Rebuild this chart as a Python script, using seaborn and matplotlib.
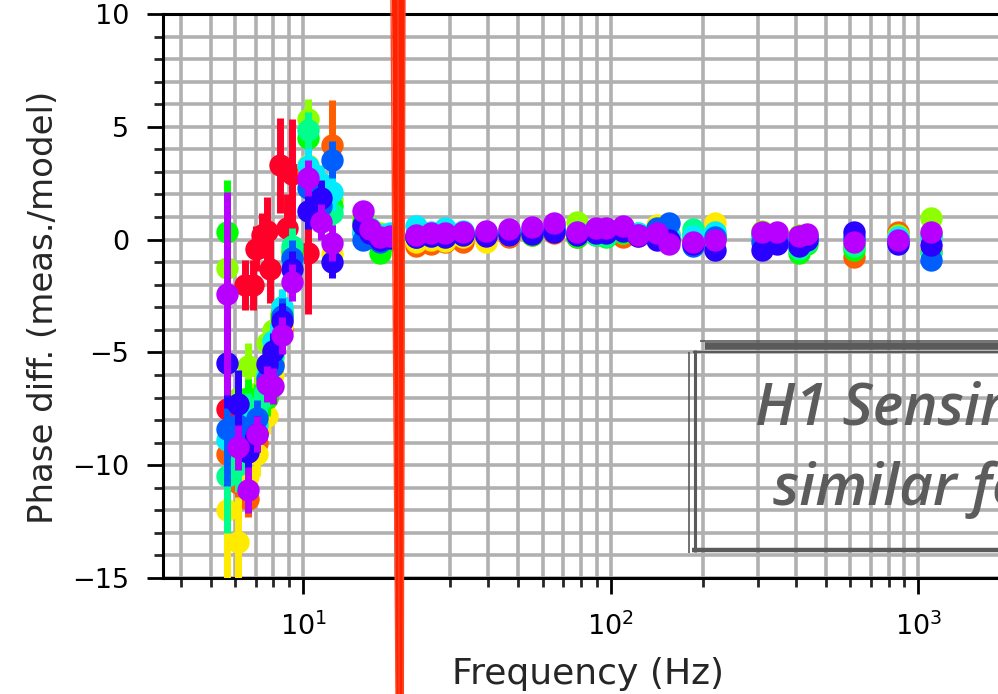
import numpy as np
import pandas as pd
import matplotlib
matplotlib.use("Agg")
import matplotlib.pyplot as plt
import seaborn as sns
from matplotlib.lines import Line2D
from matplotlib.patches import Polygon
from matplotlib.ticker import MultipleLocator, LogLocator, NullFormatter

# ---------------- data ----------------
SERIES = ["red", "orange", "yellow", "lime", "green", "spring", "cyan", "azure", "blue", "purple"]

# red measurement (low frequency only)
RED_FREQ = [5.67, 6.49, 6.89, 7.04, 7.36, 7.64, 7.82, 8.42, 8.87, 9.21, 10.38]
RED_VAL = [-7.5, -2.0, -2.0, -0.4, 0.2, 0.4, -1.3, 3.3, 0.5, 2.9, -0.6]
RED_ERR = [0.8, 1.1, 1.1, 1.0, 1.0, 1.5, 1.5, 2.1, 1.5, 2.45, 2.7]

F_LOW = [5.67, 6.12, 6.6, 7.1, 7.6, 8.0, 8.5, 9.2, 10.4, 11.4, 12.4]
F_HIGH = [15.7, 16.5, 17.8, 19.1, 23.2, 26.0, 29.0, 33.1, 39.3, 46.5, 55.3, 65.4,
          77.6, 89.3, 96.7, 109.8, 122.5, 141.3, 154.4, 184.5, 218.8, 309.7,
          346.8, 410.4, 435.6, 617.5, 860.0, 1097.0]

orange_low = [-9.5, -10.8, -11.5, -9.0, -7.0, -5.5, -4.0, -1.0, 3.0, 2.0, 4.2]
yellow_low = [-12.0, -13.4, -10.5, -9.5, -7.8, -6.0, -3.8, -1.2, 3.3, 2.5, -0.65]
lime_low = [-1.25, -7.0, -5.6, -6.8, -4.6, -4.0, -3.0, -0.7, 5.35, 2.2, 1.8]
green_low = [0.35, -8.5, -7.0, -7.2, -7.0, -5.0, -3.2, -0.5, 4.5, 2.0, 1.5]
spring_low = [-10.5, -10.0, -7.6, -7.4, -6.6, -5.2, -3.5, -0.3, 4.85, 1.6, 1.2]
cyan_low = [-8.9, -9.0, -8.3, -8.2, -6.0, -4.5, -3.0, -1.0, 3.25, 2.5, 2.1]
azure_low = [-8.4, -8.2, -9.0, -7.9, -6.2, -5.6, -3.4, -0.8, 2.3, 1.5, 3.55]
blue_low = [-5.45, -7.3, -9.4, -8.6, -5.5, -4.95, -3.6, -1.3, 1.25, 1.85, -1.0]
purple_low = [-2.4, -9.2, -11.1, -8.6, -6.4, -6.5, -4.25, -1.9, 2.75, 0.8, -0.15]

orange_low_err = [2.0, 1.5, 0.8, 1.0, 0.8, 0.8, 0.8, 0.8, 0.8, 0.8, 2.0]
yellow_low_err = [3.5, 2.0, 1.5, 1.0, 0.8, 0.8, 0.8, 0.8, 0.8, 0.8, 0.8]
lime_low_err = [1.5, 1.2, 1.0, 0.8, 0.8, 0.8, 0.8, 0.8, 0.9, 0.8, 0.8]
green_low_err = [2.3, 1.2, 0.8, 0.8, 0.8, 0.8, 0.8, 0.8, 0.8, 0.8, 0.8]
spring_low_err = [2.5, 1.2, 0.8, 0.8, 0.8, 0.8, 0.8, 0.8, 0.8, 0.8, 0.8]
cyan_low_err = [2.0, 1.0, 0.8, 0.8, 0.8, 0.8, 0.8, 0.8, 0.8, 0.8, 0.8]
azure_low_err = [2.5, 1.0, 0.8, 0.8, 0.8, 0.8, 0.8, 0.8, 0.8, 0.8, 0.8]
blue_low_err = [2.0, 1.5, 0.8, 0.8, 0.8, 0.8, 0.8, 0.8, 0.8, 0.8, 0.7]
purple_low_err = [4.5, 1.0, 1.0, 0.8, 0.8, 0.8, 0.8, 0.8, 0.8, 0.8, 0.8]

orange_high = [0.3, 0.1, -0.2, 0.0, -0.3, -0.2, -0.1, -0.1, 0.05, 0.1, 0.2, 0.3, 0.1, 0.2,
               0.3, 0.1, 0.15, 0.2, 0.0, 0.0, 0.1, 0.1, 0.1, 0.0, 0.05, -0.75, 0.35, -0.5]
yellow_high = [0.6, 0.2, 0.0, 0.1, -0.1, 0.0, -0.05, 0.1, -0.1, 0.2, 0.3, 0.4, 0.2, 0.3,
               0.3, 0.3, 0.2, 0.65, 0.3, 0.2, 0.75, 0.2, 0.15, 0.1, 0.1, -0.2, 0.1, 0.3]
lime_high = [1.0, 0.4, 0.3, 0.2, 0.1, 0.2, 0.2, 0.3, 0.35, 0.4, 0.35, 0.6, 0.8, 0.4,
             0.3, 0.4, 0.3, 0.3, 0.2, 0.3, 0.2, 0.4, 0.3, 0.2, 0.2, -0.3, 0.2, 0.95]
green_high = [0.8, 0.3, -0.6, 0.0, 0.1, 0.15, 0.1, 0.25, 0.3, 0.3, 0.2, 0.4, 0.1, 0.2,
              0.1, 0.3, 0.2, 0.2, 0.1, 0.2, 0.05, 0.2, 0.1, -0.6, -0.2, -0.45, 0.0, 0.2]
spring_high = [0.5, 0.5, 0.2, 0.2, 0.15, 0.2, 0.2, 0.3, 0.3, 0.35, 0.3, 0.45, 0.25, 0.2,
               0.15, 0.4, 0.25, 0.2, 0.1, 0.45, 0.1, 0.1, 0.05, -0.4, -0.1, -0.3, 0.05, -0.6]
cyan_high = [0.3, 0.4, 0.2, 0.3, 0.6, 0.35, 0.5, 0.4, 0.35, 0.4, 0.45, 0.55, 0.35, 0.4,
             0.45, 0.45, 0.3, 0.35, 0.2, 0.15, 0.35, 0.2, 0.2, 0.1, 0.15, 0.1, 0.1, 0.1]
azure_high = [0.0, 0.2, -0.1, 0.1, 0.1, 0.2, 0.2, 0.25, 0.3, 0.3, 0.4, 0.5, 0.3, 0.4,
              0.4, 0.45, 0.2, 0.5, 0.75, -0.3, 0.1, -0.1, 0.0, -0.1, 0.1, 0.05, -0.05, -0.9]
blue_high = [0.65, 0.3, 0.0, 0.05, 0.1, 0.15, 0.1, 0.2, 0.15, 0.2, 0.25, 0.35, 0.2, 0.3,
             0.3, 0.4, 0.15, 0.0, 0.0, -0.2, -0.45, -0.45, -0.2, -0.3, 0.0, 0.35, -0.2, -0.25]
purple_high = [1.25, 0.45, 0.1, 0.15, 0.2, 0.3, 0.3, 0.35, 0.4, 0.45, 0.55, 0.75, 0.35, 0.5,
               0.5, 0.6, 0.2, 0.3, -0.2, -0.1, 0.0, 0.35, 0.35, 0.15, 0.25, -0.1, 0.0, 0.35]

E_HIGH = [0.35, 0.3, 0.3, 0.25, 0.15, 0.15, 0.15, 0.15, 0.15, 0.15, 0.15, 0.15, 0.15, 0.15,
          0.15, 0.15, 0.15, 0.15, 0.15, 0.15, 0.15, 0.15, 0.15, 0.15, 0.15, 0.2, 0.2, 0.3]

LOW = {"orange": (orange_low, orange_low_err), "yellow": (yellow_low, yellow_low_err),
       "lime": (lime_low, lime_low_err), "green": (green_low, green_low_err),
       "spring": (spring_low, spring_low_err), "cyan": (cyan_low, cyan_low_err),
       "azure": (azure_low, azure_low_err), "blue": (blue_low, blue_low_err),
       "purple": (purple_low, purple_low_err)}
HIGH = {"orange": orange_high, "yellow": yellow_high, "lime": lime_high, "green": green_high,
        "spring": spring_high, "cyan": cyan_high, "azure": azure_high, "blue": blue_high,
        "purple": purple_high}

X_TICKS = [10, 100, 1000]
Y_TICKS = [-15, -10, -5, 0, 5, 10]
XLABEL = "Frequency (Hz)"
YLABEL = "Phase diff. (meas./model)"
NOTE1 = "H1 Sensing function"
NOTE2 = "similar for all measurements"

# ---------------- build table ----------------
rows = []
for f, v, e in zip(RED_FREQ, RED_VAL, RED_ERR):
    rows.append(("red", f, v, e))
for s in SERIES[1:]:
    lv, le = LOW[s]
    for f, v, e in zip(F_LOW, lv, le):
        rows.append((s, f, v, e))
    for f, v, e in zip(F_HIGH, HIGH[s], E_HIGH):
        rows.append((s, f, v, e))
df = pd.DataFrame(rows, columns=["series", "freq", "phase", "err"])

cmap = plt.get_cmap("gist_rainbow")
palette = {s: cmap(i / 10) for i, s in enumerate(SERIES)}

# ---------------- plot ----------------
sns.set_theme(style="white")
plt.rcParams["font.family"] = ["DejaVu Sans"]

W, H = 998, 694
fig = plt.figure(figsize=(W / 100, H / 100), dpi=100)
ax_left, ax_right, ax_top, ax_bot = 163, 1011, 14, 578
ax = fig.add_axes([ax_left / W, 1 - ax_bot / H, (ax_right - ax_left) / W, (ax_bot - ax_top) / H])

for i, s in enumerate(SERIES):
    d = df[df.series == s]
    ax.errorbar(d.freq, d.phase, yerr=d.err, fmt="none", ecolor=palette[s],
                elinewidth=5.0, capsize=0, zorder=3 + 2 * i)
    sns.scatterplot(data=d, x="freq", y="phase", color=palette[s], s=260,
                    linewidth=0, ax=ax, zorder=4 + 2 * i, legend=False)

ax.set_xscale("log")
ax.set_xlim(3.5, 2000)
ax.set_ylim(-15, 10)
ax.set_xticks(X_TICKS)
ax.xaxis.set_minor_locator(LogLocator(base=10, subs=np.arange(2, 10), numticks=20))
ax.xaxis.set_minor_formatter(NullFormatter())
ax.set_yticks(Y_TICKS)
ax.yaxis.set_minor_locator(MultipleLocator(1))

ax.grid(True, which="both", color="#b0b0b0", linewidth=2.6, zorder=0)
ax.set_axisbelow(True)

ax.tick_params(which="major", direction="out", length=11.5, width=2.0, pad=13,
               labelsize=19.5, colors="black", bottom=True, left=True)
ax.tick_params(which="minor", direction="out", length=6.5, width=2.0,
               bottom=True, left=True)
for sp in ax.spines.values():
    sp.set_linewidth(2.2)
    sp.set_color("black")

ax.set_xlabel(XLABEL, fontsize=26)
ax.set_ylabel(YLABEL, fontsize=24.5)
ax.xaxis.set_label_coords(0.501, -0.140)
ax.yaxis.set_label_coords(-0.1215, 0.48)


def fx(px):
    return px / W


def fy(py):
    return 1 - py / H


# red hand-drawn vertical marker line
fig.add_artist(Polygon([(fx(392), fy(0)), (fx(405), fy(0)), (fx(404), fy(H)), (fx(396), fy(H))],
                       closed=True, transform=fig.transFigure, facecolor="#ff2200",
                       edgecolor="none", zorder=20))
for x0, x1, lw in [(391, 396, 1.0), (405, 403, 1.0), (398, 399, 0.8)]:
    fig.add_artist(Line2D([fx(x0), fx(x1)], [fy(0), fy(H)], color="#ff4a2a",
                          linewidth=lw, transform=fig.transFigure, zorder=21))

# brushed annotation box
gray = "#5a5a5a"
box_lines = [
    ([700, 1000], [341, 341], 1.2),
    ([705, 1000], [345.5, 345.5], 5.5),
    ([693, 1000], [352, 352], 1.5),
    ([689, 689], [352, 553], 1.2),
    ([695, 695], [350, 552], 2.2),
    ([692, 1000], [550, 550], 3.2),
]
for xs, ys, lw in box_lines:
    fig.add_artist(Line2D([fx(x) for x in xs], [fy(y) for y in ys], color=gray,
                          linewidth=lw, transform=fig.transFigure, zorder=15,
                          solid_capstyle="butt"))

fig.text(fx(755), fy(425), NOTE1, fontsize=42, family="Open Sans", style="italic",
         weight="semibold", color="#5c5c5c", ha="left", va="baseline", zorder=16)
fig.text(fx(773), fy(505), NOTE2, fontsize=42, family="Open Sans", style="italic",
         weight="semibold", color="#5c5c5c", ha="left", va="baseline", zorder=16)

fig.savefig("out.png", dpi=100)
